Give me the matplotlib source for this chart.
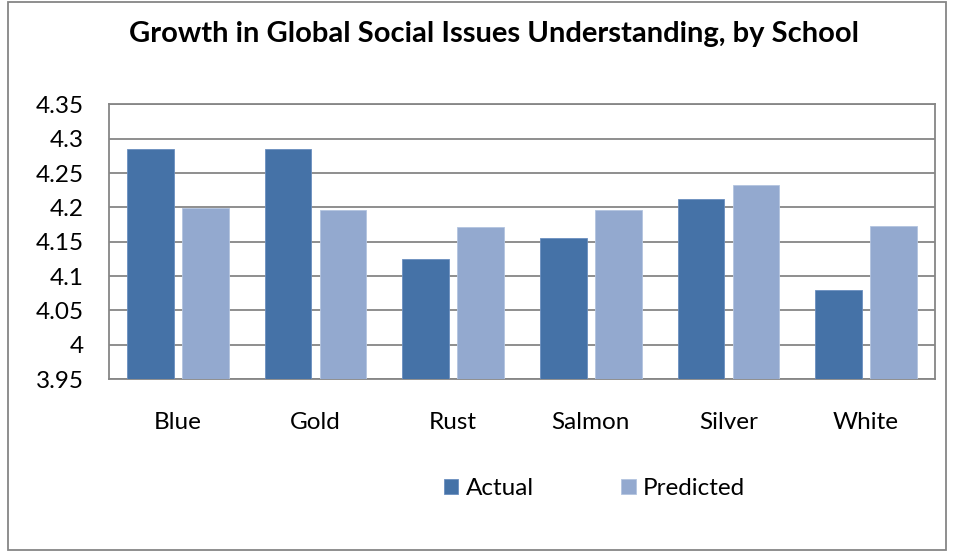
import matplotlib.pyplot as plt
from matplotlib.patches import Rectangle
import numpy as np

schools = ["Blue", "Gold", "Rust", "Salmon", "Silver", "White"]
actual = [4.285, 4.285, 4.125, 4.156, 4.212, 4.080]
predicted = [4.199, 4.196, 4.172, 4.196, 4.233, 4.173]
y_ticks = [3.95, 4.0, 4.05, 4.1, 4.15, 4.2, 4.25, 4.3, 4.35]
y_labels = ["3.95", "4", "4.05", "4.1", "4.15", "4.2", "4.25", "4.3", "4.35"]

plt.rcParams['font.family'] = ['Lato', 'DejaVu Sans']

fig = plt.figure(figsize=(9.54, 5.52), dpi=100)
ax = fig.add_axes([0.1143, 0.3134, 0.8657, 0.4973])

x = np.arange(len(schools))
w = 0.34
ax.bar(x - 0.2, actual, w, color='#4572A7', edgecolor='#6b8fbf', linewidth=0.6,
       label='Actual', zorder=3)
ax.bar(x + 0.2, predicted, w, color='#93A9CF', edgecolor='#b3c4e0', linewidth=0.6,
       label='Predicted', zorder=3)

ax.set_ylim(3.95, 4.35)
ax.set_xlim(-0.5, len(schools) - 0.5)
ax.set_yticks(y_ticks)
ax.set_yticklabels(y_labels, fontsize=17.5)
ax.set_xticks(x)
ax.set_xticklabels(schools, fontsize=17.5)
ax.tick_params(axis='both', length=0)
ax.tick_params(axis='y', pad=18)
ax.tick_params(axis='x', pad=24)
ax.grid(axis='y', color='#868686', linewidth=1.3, zorder=0)
for spine in ax.spines.values():
    spine.set_color('#868686')
    spine.set_linewidth(1.3)

fig.suptitle('Growth in Global Social Issues Understanding, by School',
             x=0.518, y=0.962, fontsize=21, fontweight='bold')

fig.legend(loc='center', bbox_to_anchor=(0.623, 0.115), ncol=2, frameon=False,
           fontsize=17.5, handlelength=0.6, handleheight=0.6, columnspacing=3.6,
           handletextpad=0.3)

# outer chart frame
fig.patches.append(Rectangle((0.008, 0.004), 0.984, 0.992, transform=fig.transFigure,
                             fill=False, edgecolor='#868686', linewidth=1.3))

fig.savefig('out.png', dpi=100, facecolor='white')
